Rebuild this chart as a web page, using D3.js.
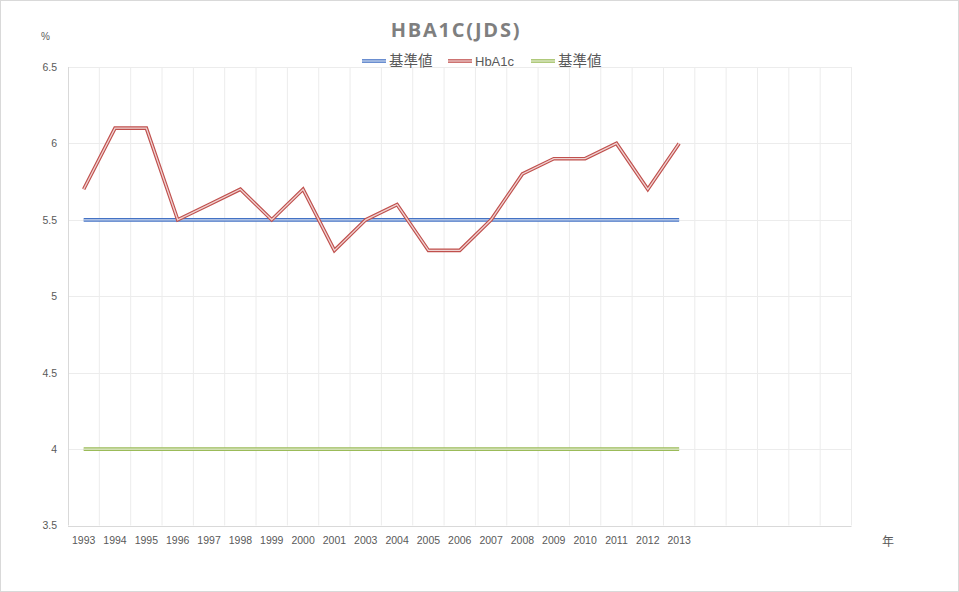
<!DOCTYPE html>
<html><head><meta charset="utf-8">
<script src="https://cdn.jsdelivr.net/npm/d3@7"></script>
<style>body{margin:0;background:#fff}svg{display:block}</style>
</head><body>
<script>
const categories = ["1993","1994","1995","1996","1997","1998","1999","2000","2001","2003","2004","2005","2006","2007","2008","2009","2010","2011","2012","2013"];
const emptySlots = 5; // unlabeled category slots to the right of 2013
const hba1c = [5.7,6.1,6.1,5.5,5.6,5.7,5.5,5.7,5.3,5.5,5.6,5.3,5.3,5.5,5.8,5.9,5.9,6.0,5.7,6.0];
const ref1 = categories.map(() => 5.5);
const ref2 = categories.map(() => 4.0);
const yTicks = [3.5,4,4.5,5,5.5,6,6.5];
const seriesNames = ["基準値","HbA1c","基準値"];
const seriesColors = ["#4472C4","#C0504D","#9BBB59"];
const title = "HBA1C(JDS)";

const W=959,H=592;
const m={left:68,right:959-851.5,top:67,bottom:592-525.5};
const svg=d3.select("body").append("svg").attr("width",W).attr("height",H);
svg.append("rect").attr("x",0.5).attr("y",0.5).attr("width",W-1).attr("height",H-1).attr("fill","#fff").attr("stroke","#d9d9d9");

const slots=d3.range(categories.length+emptySlots);
const x=d3.scaleBand().domain(slots).range([m.left,W-m.right]);
const y=d3.scaleLinear().domain([3.5,6.5]).range([H-m.bottom,m.top]);
const font="'Liberation Sans', Arial, sans-serif";
const cjk="'Noto Sans CJK JP', sans-serif";

// vertical gridlines at band boundaries
const g=svg.append("g");
slots.slice(1).forEach(i=>{
  g.append("line").attr("x1",x(i)).attr("x2",x(i)).attr("y1",y(6.5)).attr("y2",y(3.5)).attr("stroke","#ececec");
});
g.append("line").attr("x1",W-m.right).attr("x2",W-m.right).attr("y1",y(6.5)).attr("y2",y(3.5)).attr("stroke","#ececec");
// horizontal gridlines
yTicks.forEach(t=>{
  g.append("line").attr("x1",m.left).attr("x2",W-m.right).attr("y1",Math.round(y(t))+0.5).attr("y2",Math.round(y(t))+0.5).attr("stroke",t===3.5?"#d9d9d9":"#ececec");
});
g.append("line").attr("x1",m.left+0.5).attr("x2",m.left+0.5).attr("y1",y(6.5)).attr("y2",y(3.5)).attr("stroke","#d9d9d9");

// y axis labels
const yAxis=d3.axisLeft(y).tickValues(yTicks).tickSize(0).tickPadding(11).tickFormat(d3.format("~g"));
const ya=svg.append("g").attr("transform",`translate(${m.left},0)`).call(yAxis);
ya.select(".domain").remove();
ya.selectAll("text").attr("font-family",font).attr("font-size","10.5px").attr("fill","#595959");

// x axis labels
const xAxis=d3.axisBottom(x).tickSize(0).tickPadding(11.5).tickFormat(i=>categories[i]||"");
const xa=svg.append("g").attr("transform",`translate(0,${H-m.bottom})`).call(xAxis);
xa.select(".domain").remove();
xa.selectAll("text").attr("font-family",font).attr("font-size","10.5px").attr("fill","#595959");

// unit labels
svg.append("text").attr("x",41).attr("y",40).text("%").attr("font-family",font).attr("font-size","10px").attr("fill","#595959");
svg.append("text").attr("x",888).attr("y",546).attr("text-anchor","middle").text("年").attr("font-family",cjk).attr("font-size","12px").attr("fill","#595959");

// title
svg.append("text").attr("x",456).attr("y",37).attr("text-anchor","middle").text(title)
  .attr("font-family","'Open Sans', sans-serif").attr("font-weight","bold").attr("font-size","20px").attr("letter-spacing","1.8px").attr("fill","#7f7f7f");

// double-line drawing
function doubleLine(sel, d, color){
  sel.append("path").attr("d",d).attr("fill","none").attr("stroke",color).attr("stroke-width",3.6).attr("stroke-linejoin","miter");
  sel.append("path").attr("d",d).attr("fill","none").attr("stroke","#fff").attr("stroke-opacity",0.75).attr("stroke-width",1.3).attr("stroke-linejoin","miter");
}
const line=d3.line().x((d,i)=>x(i)+x.bandwidth()/2).y(d=>y(d));
const series=[ref1,hba1c,ref2];
series.forEach((s,k)=>doubleLine(svg.append("g"),line(s),seriesColors[k]));

// legend
const legendItems=[{x:362,w:24},{x:448,w:24},{x:531,w:24}];
const lg=svg.append("g");
seriesNames.forEach((n,k)=>{
  const lx=legendItems[k].x, ly=61;
  doubleLine(lg,`M${lx},${ly}H${lx+legendItems[k].w}`,seriesColors[k]);
  lg.append("text").attr("x",lx+27).attr("y",ly+5).text(n)
    .attr("font-family",k===1?font:cjk).attr("font-size",k===1?"13px":"14.5px").attr("fill","#595959");
});
</script>
</body></html>
